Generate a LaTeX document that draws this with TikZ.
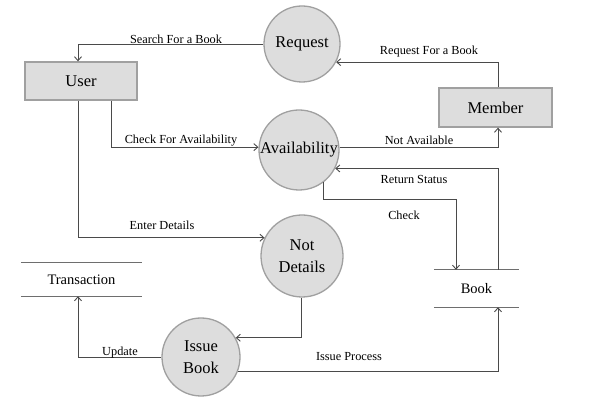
\documentclass[tikz,border=0pt]{standalone}
\usepackage{fontspec}
\setmainfont{Liberation Serif}
\usetikzlibrary{arrows.meta,calc}
\definecolor{procfill}{HTML}{DDDDDD}
\definecolor{procdraw}{HTML}{A0A0A0}
\definecolor{flowline}{HTML}{4A4A4A}
\tikzset{
  proc/.style={circle,draw=procdraw,fill=procfill,line width=1.3pt,inner sep=0pt,align=center,font=\fontsize{16.5}{22}\selectfont},
  entity/.style={rectangle,draw=procdraw,fill=procfill,line width=1.3pt,inner sep=0pt,font=\fontsize{16.5}{20}\selectfont},
  store/.style={rectangle,inner sep=0pt,font=\fontsize{14.5}{18}\selectfont},
  flow/.style={draw=flowline,line width=0.9pt,-{Straight Barb[length=4pt,width=7pt]}},
  flowlabel/.style={inner sep=0pt,font=\fontsize{12.3}{14}\selectfont},
  storeline/.style={draw=flowline!80,line width=1.2pt}
}
\begin{document}
\begin{tikzpicture}[x=1pt,y=-1pt]
\useasboundingbox (0,0) rectangle (605,411);
% processes
\node[proc,minimum size=76pt] (req) at (302,44) {Request};
\node[proc,minimum size=80pt] (avail) at (299,150) {Availability};
\node[proc,minimum size=82pt] (notd) at (302,256) {Not\\Details};
\node[proc,minimum size=78pt] (issue) at (201,357) {Issue\\Book};
% entities
\node[entity,minimum width=112pt,minimum height=38pt] (user) at (81,81) {User};
\node[entity,minimum width=113pt,minimum height=39pt] (member) at (495.5,107.5) {Member};
% stores
\node[store,minimum width=121pt,minimum height=33pt] (trans) at (81.5,279.5) {Transaction};
\draw[storeline] (trans.north west) -- (trans.north east);
\draw[storeline] (trans.south west) -- (trans.south east);
\node[store,minimum width=85pt,minimum height=37pt] (book) at (476.5,288.5) {Book};
\draw[storeline] (book.north west) -- (book.north east);
\draw[storeline] (book.south west) -- (book.south east);
% flows
\draw[flow] (req.west) -| ([xshift=-3pt]user.north);
\draw[flow] ([xshift=30pt]user.south) |- (avail.176);
\draw[flow] ([xshift=-3pt]user.south) |- (notd.154);
\draw[flow] ([xshift=-1pt]notd.south) |- (issue.29);
\draw[flow] (issue.west) -| ([xshift=-3.5pt]trans.south);
\draw[flow] (issue.-21) -| ([xshift=21.5pt]book.south);
\draw[flow] (avail.-53) -- ++(0,17) -| ([xshift=-20.5pt]book.north);
\draw[flow] ([xshift=21.5pt]book.north) |- (avail.-27);
\draw[flow] (avail.4) -| ([xshift=2.5pt]member.south);
\draw[flow] ([xshift=2.5pt]member.north) |- (req.-28);
% labels
\node[flowlabel] (l1) at (176,39) {Search For a Book};
\node[flowlabel] (l2) at (181,141) {Check For Availability};
\node[flowlabel] (l3) at (162,225) {Enter Details};
\node[flowlabel] (l4) at (120,353) {Update};
\node[flowlabel] (l5) at (349,357) {Issue Process};
\node[flowlabel] (l6) at (404,215) {Check};
\node[flowlabel] (l7) at (414,179) {Return Status};
\node[flowlabel] (l8) at (419,140) {Not Available};
\node[flowlabel] (l9) at (429,52) {Request For a Book};
\end{tikzpicture}
\end{document}
